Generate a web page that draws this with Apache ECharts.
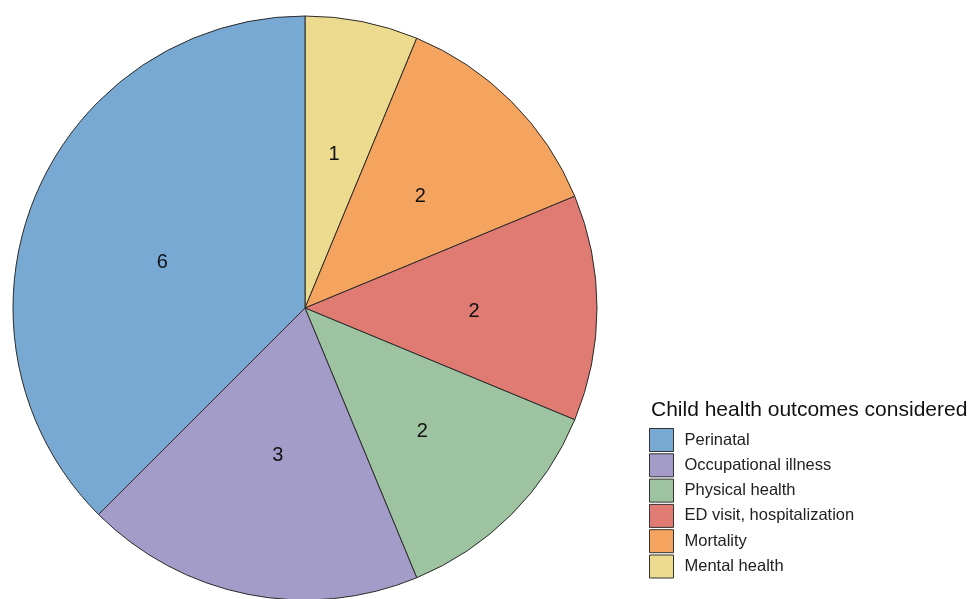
<!DOCTYPE html>
<meta charset="utf-8">
<style>
  html, body { margin: 0; padding: 0; background: #fff; }
  #container { width: 968px; height: 599px; }
</style>
<body>
<div id="container"></div>
<script src="https://cdn.jsdelivr.net/npm/echarts@6/dist/echarts.min.js"></script>
<script>

// slices, clockwise from 12 o'clock
var categories = ['Mental health', 'Mortality', 'ED visit, hospitalization', 'Physical health', 'Occupational illness', 'Perinatal'];
var counts = [1, 2, 2, 2, 3, 6];
var colors = ['#ecdb8e', '#f4a45e', '#e07b74', '#9dc3a1', '#a49cc8', '#78a9d3'];
var legendOrder = ['Perinatal', 'Occupational illness', 'Physical health', 'ED visit, hospitalization', 'Mortality', 'Mental health'];

// small nudges so the counts sit where the original put them
var labelNudge = [[0, -7], [10, -6], [20, 3], [12, 18], [2, 1], [-5, 12]];

var pieData = [];
for (let i = 0; i < categories.length; i++) {
  pieData.push({
    name: categories[i],
    value: counts[i],
    itemStyle: { color: colors[i] },
    label: { offset: labelNudge[i] }
  });
}

var myChart = echarts.init(document.getElementById('container'), null, { renderer: 'canvas' });

var option = {
  animation: false,
  textStyle: { fontFamily: 'Liberation Sans, Arial, sans-serif' },
  title: {
    text: 'Child health outcomes considered',
    left: 651,
    top: 400,
    padding: 0,
    textStyle: { fontSize: 21, fontWeight: 'normal', color: '#111', fontFamily: 'Liberation Sans, Arial, sans-serif' }
  },
  legend: {
    orient: 'vertical',
    left: 649,
    top: 428,
    padding: 0,
    itemWidth: 24,
    itemHeight: 23,
    itemGap: 1.3,
    icon: 'rect',
    data: legendOrder,
    itemStyle: { borderColor: '#333', borderWidth: 1 },
    textStyle: { fontSize: 16.5, color: '#222', padding: [0, 0, 0, 6] }
  },
  series: [
    {
      type: 'pie',
      center: [305, 308],
      radius: 292,
      startAngle: 90,
      clockwise: true,
      data: pieData,
      itemStyle: { borderColor: '#2a2a2a', borderWidth: 1 },
      label: {
        show: true,
        position: 'inside',
        formatter: '{c}',
        fontSize: 20,
        color: '#111'
      },
      labelLine: { show: false },
      emphasis: { disabled: true }
    }
  ]
};

myChart.setOption(option);
window.addEventListener('resize', myChart.resize);
</script>
</body>
